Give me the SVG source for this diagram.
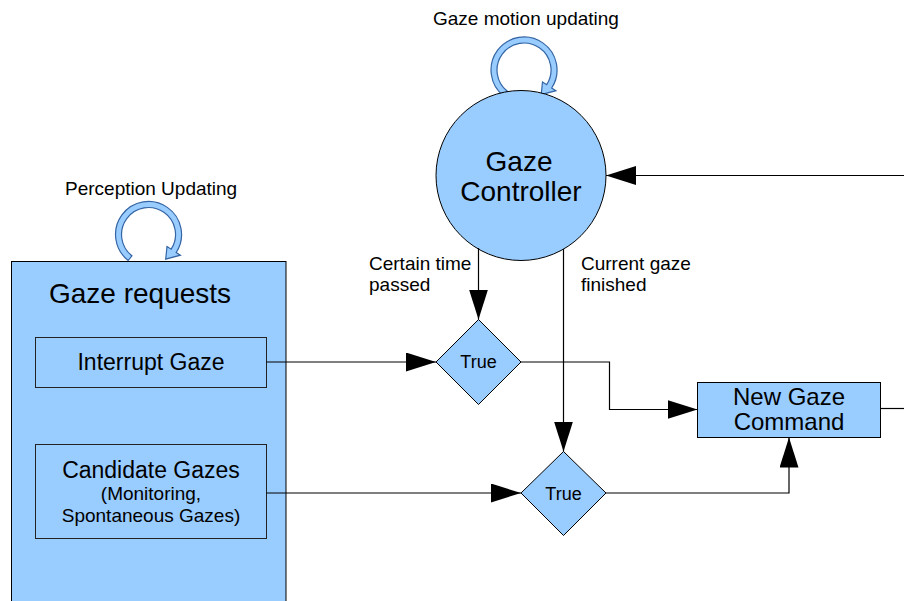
<svg xmlns="http://www.w3.org/2000/svg" xmlns:xlink="http://www.w3.org/1999/xlink" width="904" height="601" viewBox="0 0 904 601">
<style>
text{font-family:"Liberation Sans",Arial,sans-serif;fill:#000}
.shape{fill:#99ccff;stroke:#000;stroke-width:1}
.inner{fill:#99ccff;stroke:#222;stroke-width:1}
.loop{fill:#99ccff;stroke:#3465a4;stroke-width:1.2}
.conn{fill:none;stroke:#000;stroke-width:1.2}
.s18{font-size:18px}
.s19{font-size:19px}
.s23{font-size:23px}
.s24{font-size:24px}
.s28{font-size:28px}
.mid{text-anchor:middle}
</style>
<defs>
<marker id="arr" markerUnits="userSpaceOnUse" markerWidth="30" markerHeight="19" refX="30" refY="9.5" orient="auto">
<path d="M0,0 L30,9.5 L0,19 Z" fill="#000"/>
</marker>
<path id="loopShape" d="M503.7 96 A33 33 0 1 1 551.7 88 L555.9 90.7 L541.2 94.6 L542.5 82 L546.7 84.7 A27 27 0 1 0 507.4 91.3 Z"/>
</defs>

<g id="gaze-requests">
<rect class="shape" x="11.5" y="261.5" width="274.5" height="345"/>
<text class="s28" x="49" y="303">Gaze requests</text>
</g>
<g id="perception-loop">
<use href="#loopShape" xlink:href="#loopShape" class="loop" transform="translate(-375.5,164.5)"/>
<text class="s19" x="65" y="195">Perception Updating</text>
</g>
<g id="interrupt-gaze">
<rect class="inner" x="35.5" y="337.5" width="231" height="50"/>
<text class="s23 mid" x="151" y="370">Interrupt Gaze</text>
</g>
<g id="candidate-gazes">
<rect class="inner" x="35.5" y="444.5" width="231" height="94"/>
<text class="s23 mid" x="151" y="478">Candidate Gazes</text>
<text class="s19 mid" x="151" y="500">(Monitoring,</text>
<text class="s19 mid" x="151" y="522">Spontaneous Gazes)</text>
</g>
<g id="gaze-motion-loop">
<use href="#loopShape" xlink:href="#loopShape" class="loop"/>
<text class="s19" x="433" y="25">Gaze motion updating</text>
</g>
<g id="gaze-controller">
<circle class="shape" cx="521" cy="175.5" r="85"/>
<text class="s28 mid" x="519" y="171">Gaze</text>
<text class="s28 mid" x="521" y="201">Controller</text>
</g>
<g id="true-1">
<polygon class="shape" points="478.5,319.5 521,362 478.5,404.5 436,362"/>
<text class="s18 mid" x="478.5" y="368">True</text>
</g>
<g id="true-2">
<polygon class="shape" points="563.5,451.5 606,493 563.5,535.5 521,493"/>
<text class="s18 mid" x="563.5" y="500">True</text>
</g>
<g id="new-gaze-command">
<rect class="shape" x="697.5" y="382.5" width="183" height="55"/>
<text class="s24 mid" x="789" y="405">New Gaze</text>
<text class="s24 mid" x="789" y="430">Command</text>
</g>
<g id="labels">
<text class="s19" x="369" y="270">Certain time</text>
<text class="s19" x="369" y="291">passed</text>
<text class="s19" x="581" y="270">Current gaze</text>
<text class="s19" x="581" y="291">finished</text>
</g>
<g id="connectors">
<path class="conn" d="M906 175.5 L606 175.5" marker-end="url(#arr)"/>
<path class="conn" d="M478.5 248 L478.5 319.5" marker-end="url(#arr)"/>
<path class="conn" d="M563.5 249 L563.5 451.5" marker-end="url(#arr)"/>
<path class="conn" d="M266.5 362 L436 362" marker-end="url(#arr)"/>
<path class="conn" d="M266.5 493 L521 493" marker-end="url(#arr)"/>
<path class="conn" d="M521 362 L609.5 362 L609.5 409.5 L697.5 409.5" marker-end="url(#arr)"/>
<path class="conn" d="M606 493 L789 493 L789 437.5" marker-end="url(#arr)"/>
<path class="conn" d="M880.5 408.5 L906 408.5"/>
</g>
</svg>
